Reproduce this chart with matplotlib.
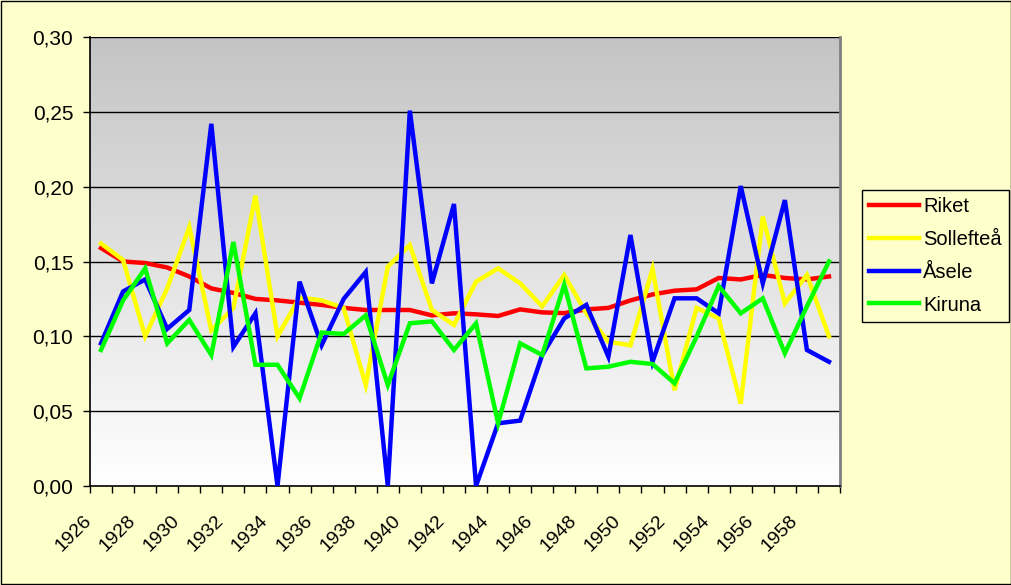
import numpy as np
import matplotlib
matplotlib.use("Agg")
import matplotlib.pyplot as plt
from matplotlib.patches import Rectangle
from matplotlib.ticker import FuncFormatter
import matplotlib.transforms as mtransforms

plt.rcParams['font.family'] = ['Liberation Sans', 'DejaVu Sans']

years = list(range(1926, 1960))
riket = [0.159, 0.150, 0.149, 0.146, 0.140, 0.132, 0.129, 0.125, 0.124, 0.1225,
         0.121, 0.119, 0.1176, 0.1176, 0.1176, 0.114, 0.1154, 0.1147, 0.1136, 0.118,
         0.116, 0.1155, 0.118, 0.119, 0.124, 0.128, 0.1305, 0.1314, 0.139, 0.138,
         0.141, 0.139, 0.138, 0.140]
solleftea = [0.162, 0.151, 0.100, 0.132, 0.173, 0.104, 0.119, 0.194, 0.100, 0.126,
             0.124, 0.119, 0.0675, 0.1466, 0.161, 0.1176, 0.1076, 0.1365, 0.1454, 0.1354,
             0.120, 0.141, 0.1154, 0.0964, 0.094, 0.145, 0.064, 0.119, 0.112, 0.055,
             0.180, 0.122, 0.141, 0.100]
asele = [0.0953, 0.130, 0.138, 0.105, 0.1176, 0.242, 0.093, 0.1154, 0.0, 0.1365,
         0.094, 0.125, 0.143, 0.0, 0.2508, 0.1354, 0.1884, 0.0, 0.0419, 0.0437,
         0.0875, 0.112, 0.121, 0.0864, 0.1677, 0.083, 0.1254, 0.1254, 0.1154, 0.2004,
         0.1354, 0.191, 0.0909, 0.083]
kiruna = [0.0909, 0.124, 0.1454, 0.0953, 0.111, 0.0875, 0.163, 0.081, 0.081, 0.0586,
          0.1025, 0.1016, 0.114, 0.0675, 0.1087, 0.110, 0.0909, 0.1087, 0.0419, 0.0953,
          0.0875, 0.1345, 0.0786, 0.0797, 0.083, 0.0815, 0.0686, 0.0998, 0.1336, 0.1154,
          0.1254, 0.0887, 0.120, 0.150]

series = [("Riket", riket, "#FF0000"),
          ("Sollefteå", solleftea, "#FFFF00"),
          ("Åsele", asele, "#0000FF"),
          ("Kiruna", kiruna, "#00FF00")]

bg = "#FFFFCC"
fig = plt.figure(figsize=(10.12, 5.85), dpi=100, facecolor=bg)
ax = fig.add_axes([90/1012, 1-486/585, 750/1012, 449/585])

x = np.arange(len(years))
ax.set_xlim(-0.5, len(years)-0.5)
ax.set_ylim(0, 0.30)

# gradient background
grad = np.linspace(0, 1, 256).reshape(-1, 1)
ax.imshow(grad, extent=[0, 1, 0, 1], transform=ax.transAxes, aspect='auto',
          cmap=matplotlib.colors.LinearSegmentedColormap.from_list('g', ['#FFFFFF', '#C4C4C4']),
          origin='lower', zorder=0)

for yv in np.arange(0.05, 0.31, 0.05):
    ax.axhline(yv, color='black', lw=1.0, zorder=1)

for name, vals, col in series:
    ax.plot(x, vals, color=col, lw=3.2, label=name, zorder=3, solid_joinstyle='miter')

ax.set_yticks(np.arange(0, 0.31, 0.05))
ax.yaxis.set_major_formatter(FuncFormatter(lambda v, p: f"{v:.2f}".replace('.', ',')))
ax.tick_params(axis='y', direction='out', length=5, width=1, labelsize=15, pad=7)

ax.set_xticks(x[::2])
ax.set_xticklabels([str(y) for y in years[::2]], rotation=45, ha='right',
                   va='center', rotation_mode='anchor', fontsize=14)
ax.set_xticks(np.arange(-0.5, len(years), 1), minor=True)
ax.tick_params(axis='x', which='major', length=0, pad=23)
ax.tick_params(axis='x', which='minor', direction='out', length=5, width=1)

offset = mtransforms.ScaledTranslation(-12/100, 0, fig.dpi_scale_trans)
for lbl in ax.get_xticklabels():
    lbl.set_transform(lbl.get_transform() + offset)

ax.spines['top'].set_visible(False)
ax.spines['right'].set_color('#808080')
ax.spines['right'].set_linewidth(2)
ax.spines['left'].set_color('black')
ax.spines['bottom'].set_color('black')
ax.spines['left'].set_linewidth(1.2)
ax.spines['bottom'].set_linewidth(1.2)

leg = fig.legend(loc='center left', bbox_to_anchor=(862/1012, 1-256/585),
                 fontsize=14.5, frameon=True, fancybox=False, facecolor=bg,
                 edgecolor='black', framealpha=1, handlelength=2.5,
                 handletextpad=0.2, borderpad=0.35, labelspacing=0.68, borderaxespad=0)
leg.get_frame().set_linewidth(1.0)

fig.patches.append(Rectangle((0.001, 0.002), 0.998, 0.996, transform=fig.transFigure,
                             fill=False, edgecolor='black', lw=1.0))

fig.savefig("out.png", dpi=100, facecolor=bg)
